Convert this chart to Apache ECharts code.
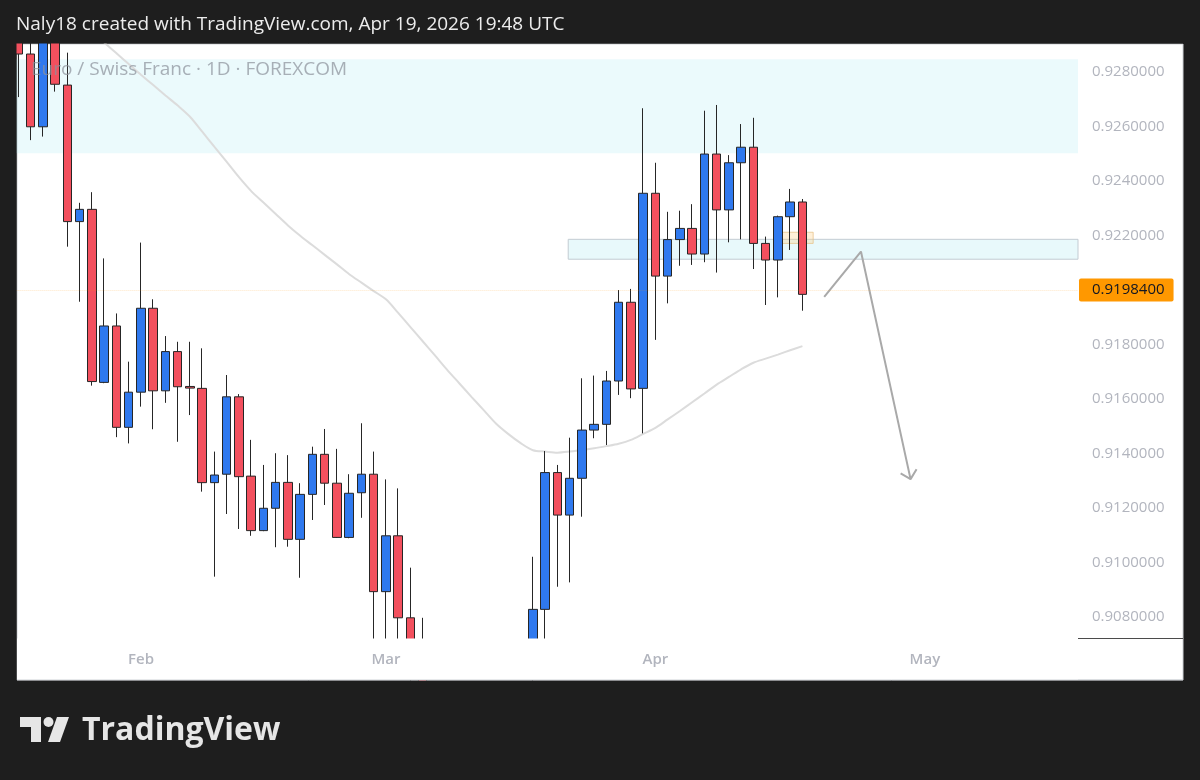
<!DOCTYPE html>
<html><head><meta charset="utf-8">
<script src="https://cdn.jsdelivr.net/npm/echarts@6/dist/echarts.min.js"></script>
<style>html,body{margin:0;padding:0;background:#1e1e1e;}#c{width:1200px;height:780px;}</style>
</head><body><div id="c"></div>
<script>
// ---- categories (daily trading sessions) ----
const DATES = [
 'Jan 19','Jan 20','Jan 21','Jan 22','Jan 23','Jan 26','Jan 27','Jan 28','Jan 29','Jan 30',
 'Feb 2','Feb 3','Feb 4','Feb 5','Feb 6','Feb 9','Feb 10','Feb 11','Feb 12','Feb 13',
 'Feb 16','Feb 17','Feb 18','Feb 19','Feb 20','Feb 23','Feb 24','Feb 25','Feb 26','Feb 27',
 'Mar 2','Mar 3','Mar 4','Mar 5','Mar 6','Mar 9','Mar 10','Mar 11','Mar 12','Mar 13',
 'Mar 16','Mar 17','Mar 18','Mar 19','Mar 20','Mar 23','Mar 24','Mar 25','Mar 26','Mar 27',
 'Mar 30','Mar 31',
 'Apr 1','Apr 2','Apr 3','Apr 6','Apr 7','Apr 8','Apr 9','Apr 10','Apr 13','Apr 14',
 'Apr 15','Apr 16','Apr 17','Apr 20','Apr 21','Apr 22','Apr 23','Apr 24','Apr 27','Apr 28',
 'Apr 29','Apr 30',
 'May 1','May 4','May 5','May 6','May 7','May 8','May 11','May 12','May 13','May 14',
 'May 15','May 18','May 19'
];
const MONTH_TICKS = {'Feb 2':'Feb','Mar 2':'Mar','Apr 1':'Apr','May 1':'May'};

// ---- EUR/CHF daily OHLC ----
const OPEN = [0.93020,0.92866,0.92599,0.92950,0.92752,0.92251,0.92296,0.91661,0.91868,0.91496,
 0.91625,0.91933,0.91630,0.91774,0.91646,0.91639,0.91293,0.91324,0.91608,0.91317,
 0.91117,0.91199,0.91294,0.91085,0.91250,0.91397,0.91291,0.91092,0.91256,0.91324,
 0.90893,0.91098,0.90797,0.90630,0.90510,0.90580,0.90460,0.90390,0.90500,0.90440,
 0.90550,0.90490,0.90590,0.90828,0.91330,0.91174,0.91309,0.91486,0.91507,0.91666,
 0.91955,0.91639,0.92355,0.92051,0.92185,0.92226,0.92132,0.92499,0.92294,0.92467,
 0.92524,0.92171,0.92110,0.92269,0.92323];
const CLOSE = [0.92866,0.92599,0.92950,0.92755,0.92251,0.92296,0.91664,0.91868,0.91496,0.91625,
 0.91933,0.91630,0.91774,0.91645,0.91640,0.91293,0.91321,0.91608,0.91315,0.91117,
 0.91199,0.91294,0.91085,0.91250,0.91397,0.91291,0.91092,0.91254,0.91324,0.90893,
 0.91098,0.90797,0.90630,0.90510,0.90580,0.90460,0.90390,0.90500,0.90440,0.90550,
 0.90490,0.90590,0.90828,0.91330,0.91174,0.91309,0.91486,0.91507,0.91666,0.91955,
 0.91637,0.92355,0.92051,0.92185,0.92226,0.92132,0.92499,0.92294,0.92467,0.92524,
 0.92171,0.92110,0.92269,0.92323,0.91984];
const LOW = [0.92708,0.92550,0.92563,0.92728,0.92159,0.91957,0.91649,0.91658,0.91460,0.91437,
 0.91572,0.91489,0.91586,0.91443,0.91541,0.91260,0.90948,0.91178,0.91123,0.91098,
 0.91115,0.91056,0.91058,0.90944,0.91156,0.91211,0.91090,0.91089,0.91164,0.90600,
 0.90650,0.90580,0.90520,0.90430,0.90400,0.90380,0.90300,0.90330,0.90360,0.90400,
 0.90420,0.90450,0.90520,0.90680,0.90911,0.90927,0.91168,0.91456,0.91431,0.91615,
 0.91603,0.91474,0.91817,0.91951,0.92089,0.92092,0.92102,0.92064,0.92175,0.92186,
 0.92077,0.91945,0.91973,0.92147,0.91924];
const HIGH = [0.93060,0.92920,0.92980,0.92970,0.92871,0.92320,0.92359,0.92116,0.91914,0.91737,
 0.92174,0.91966,0.91831,0.91810,0.91810,0.91786,0.91407,0.91688,0.91618,0.91450,
 0.91358,0.91401,0.91394,0.91291,0.91425,0.91490,0.91417,0.91324,0.91511,0.91407,
 0.91305,0.91272,0.90981,0.90797,0.90660,0.90640,0.90570,0.90610,0.90620,0.90650,
 0.90680,0.90690,0.91021,0.91409,0.91358,0.91458,0.91676,0.91686,0.91703,0.92000,
 0.92004,0.92667,0.92467,0.92287,0.92291,0.92315,0.92658,0.92679,0.92495,0.92609,
 0.92632,0.92196,0.92273,0.92371,0.92334];

// ---- moving average ----
const MA = [0.93183,0.93144,0.93105,0.93065,0.93026,0.92986,0.92947,0.92908,0.92869,0.92829,
 0.92790,0.92752,0.92714,0.92677,0.92636,0.92581,0.92525,0.92470,0.92414,0.92363,
 0.92321,0.92279,0.92237,0.92199,0.92164,0.92129,0.92094,0.92058,0.92027,0.91996,
 0.91966,0.91916,0.91864,0.91812,0.91760,0.91707,0.91657,0.91607,0.91558,0.91509,
 0.91471,0.91438,0.91412,0.91407,0.91403,0.91407,0.91413,0.91419,0.91427,0.91436,
 0.91450,0.91472,0.91494,0.91525,0.91556,0.91588,0.91620,0.91653,0.91681,0.91709,
 0.91733,0.91748,0.91763,0.91779,0.91794];

const LAST_PRICE = 0.91984;
const Y_RANGE = [0.907229, 0.929028];

// ---- drawings (bar-index units, price) ----
const SUPPLY_ZONE = [0.92847, 0.92502];
const RETEST_X = [45.38, 87];
const RETEST_Y = [0.92186, 0.92113];
const BOX_X = [62.8, 65.38];
const BOX_Y = [0.92212, 0.92171];
const ARROW_PATH = [[66.28, 0.91975], [69.28, 0.92141], [73.33, 0.91306]];
const ARROW_HEAD = [[72.52, 0.91327], [73.33, 0.91306], [73.82, 0.91342]];

const FONT = '"Open Sans", "DejaVu Sans", sans-serif';
const candleData = OPEN.map((o, i) => [o, CLOSE[i], LOW[i], HIGH[i]]);

const chart = echarts.init(document.getElementById('c'));
chart.setOption({
  backgroundColor: '#1e1e1e',
  animation: false,
  grid: { left: 12.375, right: 122, top: 44, bottom: 142 },
  xAxis: [
    { type: 'category', data: DATES, boundaryGap: true, z: 150,
      axisLine: { show: false }, axisTick: { show: false }, splitLine: { show: false },
      axisLabel: { interval: (i, v) => v in MONTH_TICKS, formatter: v => MONTH_TICKS[v] || '',
        color: '#b2b5be', fontSize: 15, fontWeight: 600, fontFamily: FONT, margin: 14 } },
    { type: 'value', min: 0, max: DATES.length, show: false }
  ],
  yAxis: {
    type: 'value', position: 'right', min: Y_RANGE[0], max: Y_RANGE[1], splitNumber: 10,
    axisLine: { show: false }, axisTick: { show: false }, splitLine: { show: false },
    axisLabel: { showMinLabel: false, showMaxLabel: false, formatter: v => v.toFixed(7),
      color: '#b2b5be', fontSize: 15, fontFamily: FONT, margin: 14, align: 'left' }
  },
  series: [
    { type: 'line', xAxisIndex: 1, data: [], z: 1, silent: true,
      markArea: { silent: true, data: [
        [{ yAxis: SUPPLY_ZONE[0], itemStyle: { color: 'rgba(178,235,242,0.26)', borderWidth: 0 } }, { yAxis: SUPPLY_ZONE[1] }],
        [{ xAxis: RETEST_X[0], yAxis: RETEST_Y[0], itemStyle: { color: 'rgba(178,235,242,0.3)', borderColor: '#c3cbd2', borderWidth: 1 } }, { xAxis: RETEST_X[1], yAxis: RETEST_Y[1] }],
        [{ xAxis: BOX_X[0], yAxis: BOX_Y[0], itemStyle: { color: 'rgba(255,204,128,0.3)', borderColor: 'rgba(230,190,130,0.7)', borderWidth: 1 } }, { xAxis: BOX_X[1], yAxis: BOX_Y[1] }]
      ] },
      markLine: { silent: true, symbol: ['none', 'none'], label: { show: false },
        lineStyle: { color: '#c0c6cd', type: 'solid', width: 1 },
        data: [{ yAxis: SUPPLY_ZONE[0] }, { yAxis: SUPPLY_ZONE[1] }] }
    },
    { type: 'line', data: MA, z: 2, silent: true, showSymbol: false, symbol: 'none', smooth: 0.3,
      lineStyle: { color: '#dcdcdc', width: 2 } },
    { type: 'candlestick', data: candleData, z: 3, silent: true, barWidth: 9,
      itemStyle: { color: '#2f79ef', color0: '#f3505e', borderColor: '#262626', borderColor0: '#262626', borderWidth: 1 },
      markLine: { silent: true, symbol: ['none', 'none'],
        lineStyle: { color: 'rgba(255,152,0,0.22)', type: 'dotted', width: 1 },
        label: { show: true, position: 'end', distance: 1, formatter: () => LAST_PRICE.toFixed(7),
          backgroundColor: '#ff9800', color: '#131722', fontSize: 15, fontFamily: FONT,
          lineHeight: 17, padding: [3, 9, 3, 13], borderRadius: 2 },
        data: [{ yAxis: LAST_PRICE }] }
    },
    { type: 'line', xAxisIndex: 1, data: ARROW_PATH, z: 4, silent: true, showSymbol: false, symbol: 'none',
      lineStyle: { color: '#a9a9a9', width: 2 } },
    { type: 'line', xAxisIndex: 1, data: ARROW_HEAD, z: 4, silent: true, showSymbol: false, symbol: 'none',
      lineStyle: { color: '#a9a9a9', width: 2 } }
  ],
  graphic: [
    { type: 'rect', z: -100, silent: true, shape: { x: 17, y: 44, width: 1166, height: 636 },
      style: { fill: '#ffffff', stroke: '#cfd2d6', lineWidth: 1 } },
    { type: 'rect', z: 100, silent: true, shape: { x: 0, y: 0, width: 1200, height: 43.5 },
      style: { fill: '#1e1e1e' } },
    { type: 'rect', z: 100, silent: true, shape: { x: 0, y: 40, width: 16.5, height: 650 },
      style: { fill: '#1e1e1e' } },
    { type: 'rect', z: 100, silent: true, shape: { x: 0, y: 680.5, width: 1200, height: 100 },
      style: { fill: '#1e1e1e' } },
    { type: 'rect', z: 100, silent: true, shape: { x: 17, y: 638.5, width: 1061, height: 41.5 },
      style: { fill: '#ffffff' } },
    { type: 'line', z: 101, silent: true, shape: { x1: 17, y1: 680, x2: 1183, y2: 680 },
      style: { stroke: '#cfd2d6', lineWidth: 1 } },
    { type: 'line', z: 5, silent: true, shape: { x1: 1078, y1: 638.5, x2: 1183, y2: 638.5 },
      style: { stroke: '#4b4b4b', lineWidth: 1 } },
    { type: 'text', z: 110, silent: true, x: 16, y: 25,
      style: { text: 'Naly18 created with TradingView.com, Apr 19, 2026 19:48 UTC', fill: '#ececec',
        fontSize: 19, fontFamily: FONT, align: 'left', verticalAlign: 'middle' } },
    { type: 'text', z: 90, silent: true, x: 31, y: 70,
      style: { text: 'Euro / Swiss Franc · 1D · FOREXCOM', fill: 'rgba(140,145,155,0.72)',
        fontSize: 19, fontFamily: FONT, align: 'left', verticalAlign: 'middle' } },
    { type: 'polygon', z: 110, silent: true,
      shape: { points: [[20,717],[41,717],[41,742],[31,742],[31,727],[20,727]] }, style: { fill: '#e6e6e6' } },
    { type: 'circle', z: 110, silent: true, shape: { cx: 48.5, cy: 722, r: 5 }, style: { fill: '#e6e6e6' } },
    { type: 'polygon', z: 110, silent: true,
      shape: { points: [[57,717],[69,717],[60,742],[48,742]] }, style: { fill: '#e6e6e6' } },
    { type: 'text', z: 110, silent: true, x: 82, y: 731,
      style: { text: 'TradingView', fill: '#e6e6e6', fontSize: 32, fontWeight: 'bold', fontFamily: FONT,
        align: 'left', verticalAlign: 'middle' } }
  ]
});
</script></body></html>
